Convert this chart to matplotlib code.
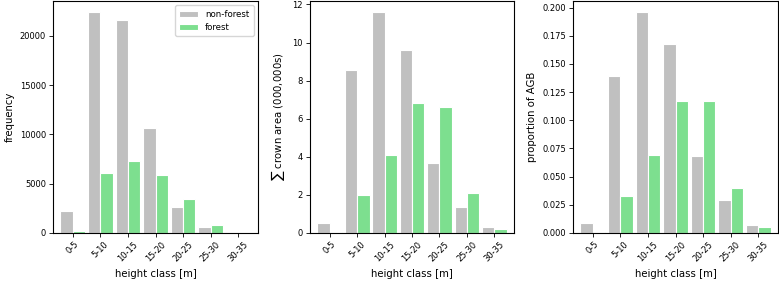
import matplotlib
matplotlib.use('Agg')
import matplotlib.pyplot as plt
import numpy as np

classes = ['0-5', '5-10', '10-15', '15-20', '20-25', '25-30', '30-35']

freq_nonforest = [2200, 22400, 21600, 10650, 2650, 650, 80]
freq_forest = [250, 6050, 7300, 5850, 3450, 780, 50]

area_nonforest = [0.55, 8.55, 11.6, 9.6, 3.65, 1.38, 0.3]
area_forest = [0.05, 2.0, 4.1, 6.82, 6.6, 2.1, 0.22]

agb_nonforest = [0.009, 0.139, 0.196, 0.168, 0.068, 0.029, 0.007]
agb_forest = [0.001, 0.033, 0.069, 0.117, 0.117, 0.040, 0.005]

grey = '#c0c0c0'
green = '#7ddf8f'

fig = plt.figure(figsize=(7.79, 2.83), dpi=100)
W, H = 779.0, 283.0
# axes boxes in pixels: left, right
boxes = [(53, 258), (310, 514), (573, 778)]
top, bottom = 1, 233

panels = [
    (freq_nonforest, freq_forest, 'frequency'),
    (area_nonforest, area_forest, r'$\sum$ crown area (000,000s)'),
    (agb_nonforest, agb_forest, 'proportion of AGB'),
]

x = np.arange(len(classes))
w = 0.45
for i, (nf, f, ylab) in enumerate(panels):
    l, r = boxes[i]
    ax = fig.add_axes([l / W, 1 - bottom / H, (r - l) / W, (bottom - top) / H])
    ax.bar(x - w / 2, nf, width=w, color=grey, edgecolor='white', linewidth=0.8, label='non-forest')
    ax.bar(x + w / 2, f, width=w, color=green, edgecolor='white', linewidth=0.8, label='forest')
    ax.set_xlim(-0.72, len(classes) - 1 + 0.72)
    ax.set_ylim(0, max(nf) * 1.05)
    ax.set_xticks(x)
    ax.set_xticklabels(classes, rotation=45, fontsize=6)
    ax.tick_params(axis='y', labelsize=6, length=3, width=0.6, pad=2)
    ax.tick_params(axis='x', length=3, width=0.6, pad=2)
    ax.set_xlabel('height class [m]', fontsize=7.3, labelpad=4)
    ax.set_ylabel(ylab, fontsize=7.3, labelpad=4)
    for s in ax.spines.values():
        s.set_linewidth(0.8)
    if i == 0:
        ax.legend(loc='upper right', fontsize=6.2, handlelength=2.2, borderpad=0.5)

plt.savefig('out.png', dpi=100)
